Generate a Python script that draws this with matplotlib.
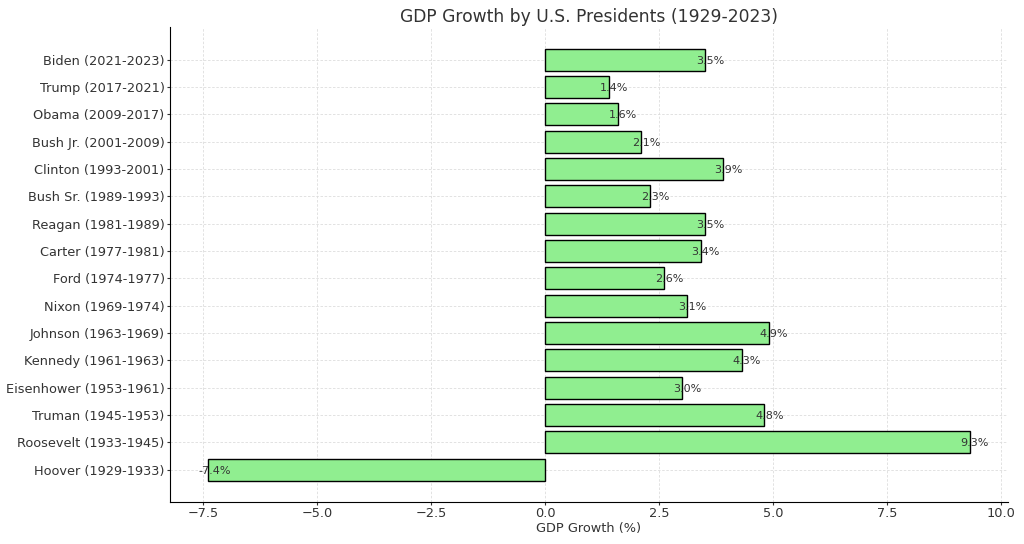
import matplotlib
matplotlib.use("Agg")
import matplotlib.pyplot as plt

presidents = ["Hoover (1929-1933)", "Roosevelt (1933-1945)", "Truman (1945-1953)",
              "Eisenhower (1953-1961)", "Kennedy (1961-1963)", "Johnson (1963-1969)",
              "Nixon (1969-1974)", "Ford (1974-1977)", "Carter (1977-1981)",
              "Reagan (1981-1989)", "Bush Sr. (1989-1993)", "Clinton (1993-2001)",
              "Bush Jr. (2001-2009)", "Obama (2009-2017)", "Trump (2017-2021)",
              "Biden (2021-2023)"]
growth = [-7.4, 9.3, 4.8, 3.0, 4.3, 4.9, 3.1, 2.6, 3.4, 3.5, 2.3, 3.9, 2.1, 1.6, 1.4, 3.5]

plt.rcParams['text.color'] = '#333333'
plt.rcParams['axes.labelcolor'] = '#333333'
plt.rcParams['xtick.color'] = '#333333'
plt.rcParams['ytick.color'] = '#333333'

fig, ax = plt.subplots(figsize=(10.24, 5.44), dpi=100)
fig.subplots_adjust(left=0.166, right=0.984, top=0.95, bottom=0.077)

bars = ax.barh(presidents, growth, color='lightgreen', edgecolor='black', zorder=3)
for bar, v in zip(bars, growth):
    ax.text(v - 0.2, bar.get_y() + bar.get_height() / 2, f"{v:.1f}%",
            ha='left', va='center_baseline', fontsize=8, color='#333333', zorder=4)

ax.set_title("GDP Growth by U.S. Presidents (1929-2023)", fontsize=12.3, color='#333333', pad=3.5)
ax.set_xlabel("GDP Growth (%)", fontsize=9.3, labelpad=1.5)
ax.grid(True, linestyle='--', dashes=(3, 2), color='#dddddd', linewidth=0.6, zorder=0)
ax.set_axisbelow(True)
ax.spines['top'].set_visible(False)
ax.spines['right'].set_visible(False)
ax.tick_params(axis='x', labelsize=9.3, length=2, pad=1.2)
ax.tick_params(axis='y', labelsize=9.3, length=2, pad=1.8)

fig.savefig("out.png", dpi=100)
